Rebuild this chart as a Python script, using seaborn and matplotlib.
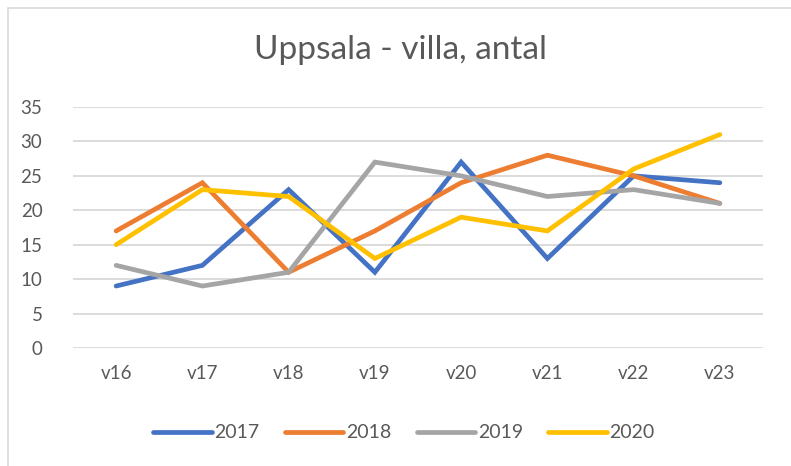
import matplotlib
matplotlib.use("Agg")
import matplotlib.pyplot as plt
import seaborn as sns
import pandas as pd
from matplotlib.patches import Rectangle
from matplotlib.lines import Line2D

weeks = ["v16", "v17", "v18", "v19", "v20", "v21", "v22", "v23"]
y2017 = [9, 12, 23, 11, 27, 13, 25, 24]
y2018 = [17, 24, 11, 17, 24, 28, 25, 21]
y2019 = [12, 9, 11, 27, 25, 22, 23, 21]
y2020 = [15, 23, 22, 13, 19, 17, 26, 31]
years = ["2017", "2018", "2019", "2020"]
colors = ["#4472C4", "#ED7D31", "#A5A5A5", "#FFC000"]

rows = []
for yr, vals in zip(years, [y2017, y2018, y2019, y2020]):
    for w, v in zip(weeks, vals):
        rows.append({"week": w, "value": v, "year": yr})
df = pd.DataFrame(rows)

sns.set_theme(style="white")
plt.rcParams["font.family"] = ["Lato", "DejaVu Sans"]
txt = "#595959"

fig = plt.figure(figsize=(7.91, 4.66), dpi=100)
ax = fig.add_axes([73/791, 1-348/466, (763-73)/791, (348-107)/466])

sns.lineplot(data=df, x="week", y="value", hue="year", palette=colors,
             linewidth=3.4, ax=ax, legend=False, sort=False)
for ln in ax.lines:
    ln.set_solid_capstyle("round")
    ln.set_solid_joinstyle("miter")

ax.set_xlim(-0.5, 7.5)
ax.set_ylim(0, 35)
ax.set_yticks(range(0, 36, 5))
ax.yaxis.grid(True, color="#D9D9D9", linewidth=1.3)
ax.set_axisbelow(True)
for s in ax.spines.values():
    s.set_visible(False)
ax.set_xlabel("")
ax.set_ylabel("")
ax.tick_params(axis="both", length=0, labelsize=13.5, labelcolor=txt)
ax.tick_params(axis="y", pad=22)
ax.tick_params(axis="x", pad=12)

fig.text(401/791, 1-50/466, "Uppsala - villa, antal", ha="center", va="center",
         fontsize=24, color=txt)

handles = [Line2D([0], [0], color=c, linewidth=3.4, solid_capstyle="round") for c in colors]
fig.legend(handles, years, loc="center", bbox_to_anchor=(404/791, 1-433/466), ncol=4,
           frameon=False, fontsize=14, handlelength=3.0, handletextpad=0.15,
           columnspacing=1.3, labelcolor=txt)

fig.patches.append(Rectangle((8/791, -0.1), 1.2, 1-8/466+0.1, transform=fig.transFigure,
                             fill=False, edgecolor="#D9D9D9", linewidth=1.2))

fig.savefig("out.png", dpi=100)
